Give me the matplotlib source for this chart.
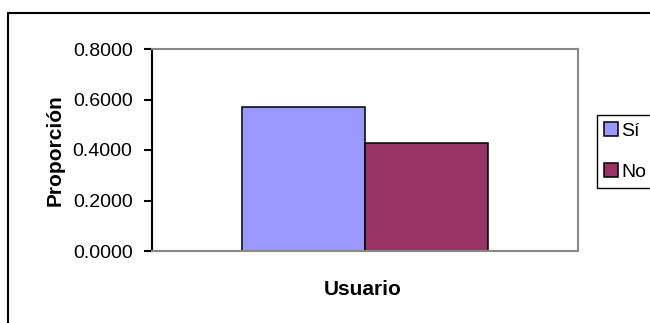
import numpy as np
import matplotlib
matplotlib.use('Agg')
import matplotlib.pyplot as plt
from matplotlib.patches import Rectangle
from matplotlib.ticker import FormatStrFormatter

plt.rcParams['font.family'] = ['Liberation Sans', 'DejaVu Sans']

series = ['Sí', 'No']
values = [0.5714, 0.4286]
colors = ['#9999FF', '#993366']
yticks = [0.0, 0.2, 0.4, 0.6, 0.8]

fig = plt.figure(figsize=(6.5, 3.23), dpi=100)
ax = fig.add_axes([152 / 650, 72 / 323, 426 / 650, 202 / 323])

# one category, two bars side by side (excel style, gap width 150%)
w = 1 / 3.5 * 1.01
offsets = np.array([-0.5, 0.5]) * w
for off, val, name, col in zip(offsets, values, series, colors):
    ax.bar(off, val, width=w, color=col, edgecolor='black', linewidth=1.1, label=name)

ax.set_xlim(-0.5, 0.5)
ax.set_ylim(0, 0.8)
ax.set_yticks(yticks)
ax.yaxis.set_major_formatter(FormatStrFormatter('%.4f'))
ax.set_xticks([])
ax.tick_params(axis='y', direction='out', length=6, width=1.5, pad=8, labelsize=14)

for side in ['top', 'right', 'bottom']:
    ax.spines[side].set_color('#888888')
    ax.spines[side].set_linewidth(1.5)
ax.spines['left'].set_color('black')
ax.spines['left'].set_linewidth(1.5)

ax.set_ylabel('Proporción', fontsize=15, fontweight='bold')
ax.yaxis.set_label_coords(-0.205, 0.5)
ax.set_xlabel('Usuario', fontsize=15, fontweight='bold')
ax.xaxis.set_label_coords(0.495, -0.145)

leg = ax.legend(loc='upper left', bbox_to_anchor=(597 / 650, 208 / 323),
                bbox_transform=fig.transFigure, borderaxespad=0, fontsize=14,
                handlelength=0.75, handleheight=0.75, handletextpad=0.15,
                labelspacing=1.2, borderpad=0.35, fancybox=False, framealpha=1)
leg.get_frame().set_edgecolor('black')
leg.get_frame().set_linewidth(1.0)

# chart area border, runs off the right and bottom edges
fig.patches.append(Rectangle((8 / 650, -0.1), 1.2, 310 / 323 + 0.1,
                             transform=fig.transFigure, fill=False,
                             edgecolor='black', linewidth=1.5, clip_on=False))

fig.savefig('out.png', dpi=100)
